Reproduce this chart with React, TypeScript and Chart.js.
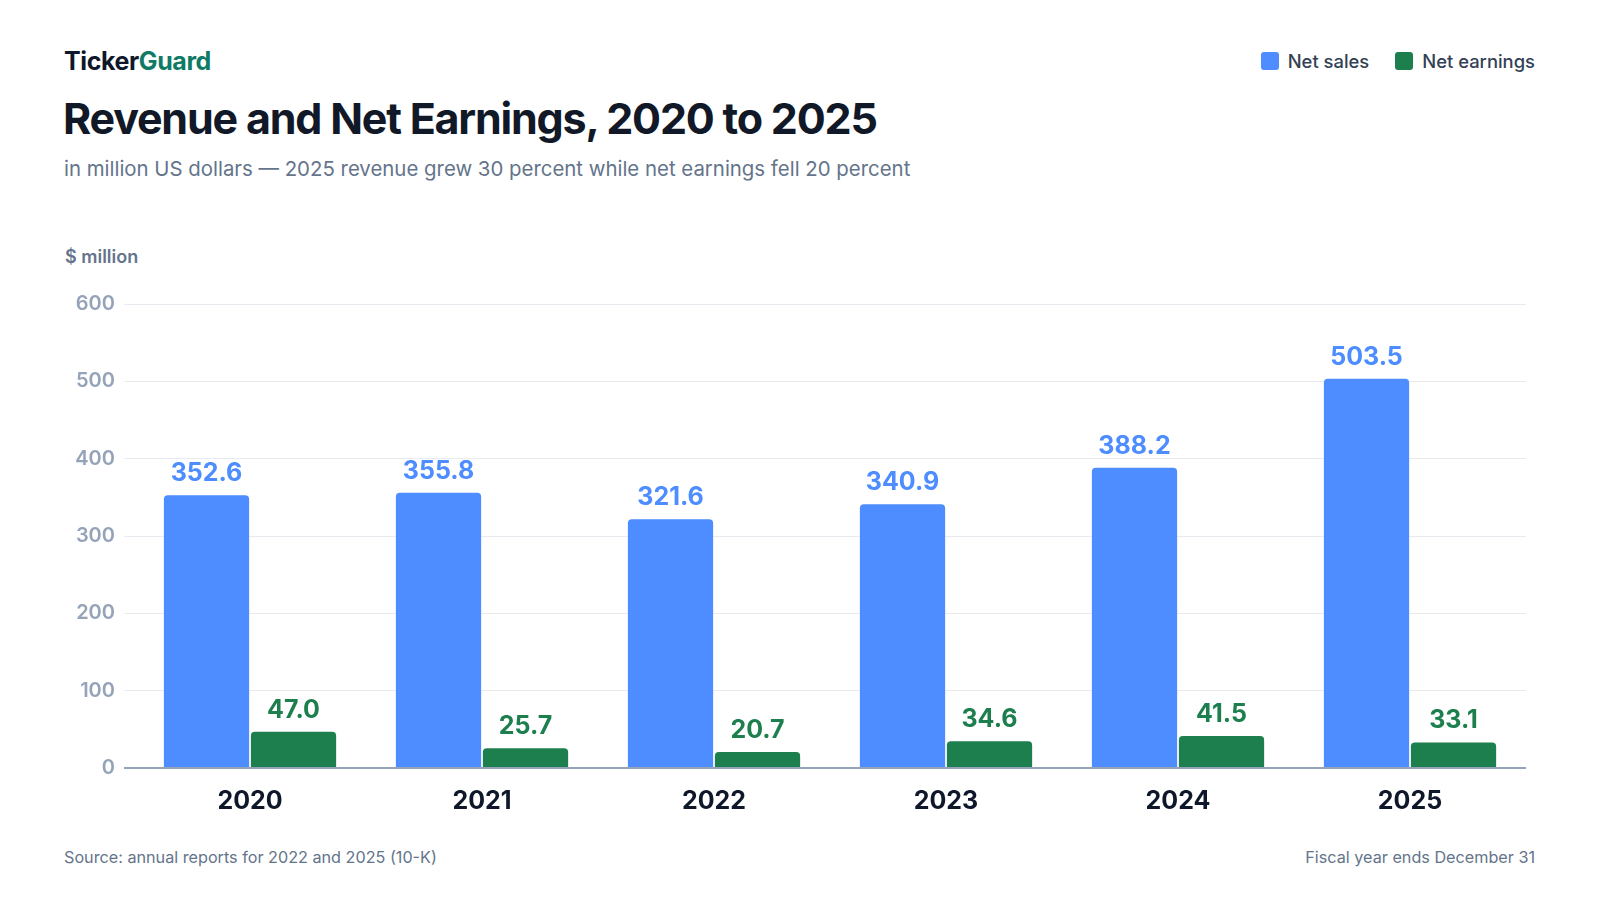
import Chart from "chart.js/auto";
import { useEffect, useRef } from "react";

const years = ["2020", "2021", "2022", "2023", "2024", "2025"];
const netSales = [352.6, 355.8, 321.6, 340.9, 388.2, 503.5];
const netEarnings = [47.0, 25.7, 20.7, 34.6, 41.5, 33.1];
const yMax = 600;
const yStep = 100;

const BLUE = "#4d8dff";
const GREEN = "#1d7f4d";
const FONT = "Inter, 'Noto Sans', sans-serif";

// value above each bar, positioned from the bar elements
const valueLabels = {
  id: "valueLabels",
  afterDatasetsDraw(chart: Chart) {
    const { ctx } = chart;
    ctx.save();
    ctx.font = `700 25px ${FONT}`;
    ctx.textAlign = "center";
    ctx.textBaseline = "alphabetic";
    chart.data.datasets.forEach((ds, i) => {
      const meta = chart.getDatasetMeta(i);
      ctx.fillStyle = ds.backgroundColor as string;
      meta.data.forEach((bar, j) => {
        const v = ds.data[j] as number;
        ctx.fillText(v.toFixed(1), bar.x, bar.y - 14);
      });
    });
    ctx.restore();
  },
};

function RevenueChart() {
  const canvasRef = useRef<HTMLCanvasElement | null>(null);

  useEffect(() => {
    if (!canvasRef.current) return;

    const chart = new Chart(canvasRef.current, {
      type: "bar",
      data: {
        labels: years,
        datasets: [
          {
            label: "Net sales",
            data: netSales,
            backgroundColor: BLUE,
            borderRadius: 4,
            categoryPercentage: 0.75,
            barPercentage: 0.98,
          },
          {
            label: "Net earnings",
            data: netEarnings,
            backgroundColor: GREEN,
            borderRadius: 4,
            categoryPercentage: 0.75,
            barPercentage: 0.98,
          },
        ],
      },
      options: {
        responsive: false,
        animation: false,
        layout: { padding: { top: 14, right: 9, bottom: 0, left: 0 } },
        plugins: {
          legend: { display: false },
          tooltip: { enabled: false },
        },
        scales: {
          x: {
            grid: { display: false, drawTicks: false },
            border: { display: false },
            ticks: {
              color: "#0f172a",
              font: { family: FONT, size: 25, weight: 700 },
              padding: 18,
            },
            afterFit: (scale) => {
              scale.height = 54;
            },
          },
          y: {
            min: 0,
            max: yMax,
            grid: {
              color: (c) => (c.tick && c.tick.value === 0 ? "#94a3b8" : "#e7eaef"),
              lineWidth: (c) => (c.tick && c.tick.value === 0 ? 2 : 1),
              drawTicks: true,
              tickLength: 10,
            },
            border: { display: false },
            ticks: {
              stepSize: yStep,
              color: "#94a3b8",
              font: { family: FONT, size: 20, weight: 600 },
              padding: 9,
            },
            afterFit: (scale) => {
              scale.width = 69;
            },
          },
        },
      },
      plugins: [valueLabels],
    });

    return () => chart.destroy();
  }, []);

  return (
    <canvas
      ref={canvasRef}
      width={1470}
      height={539}
      style={{ position: "absolute", left: 65, top: 283, width: 1470, height: 539 }}
    />
  );
}

function LegendItem({ color, label, gap }: { color: string; label: string; gap: number }) {
  return (
    <div style={{ display: "flex", alignItems: "center", marginLeft: gap }}>
      <span
        style={{
          width: 18,
          height: 18,
          borderRadius: 3,
          background: color,
          display: "inline-block",
          marginRight: 9,
        }}
      />
      <span style={{ fontSize: 18.4, fontWeight: 500, color: "#334155", lineHeight: 1 }}>{label}</span>
    </div>
  );
}

export default function App() {
  useEffect(() => {
    document.body.style.margin = "0";
  }, []);

  return (
    <div
      style={{
        position: "relative",
        width: 1600,
        height: 900,
        background: "#ffffff",
        fontFamily: FONT,
        overflow: "hidden",
      }}
    >
      <div
        style={{
          position: "absolute",
          left: 64,
          top: 49,
          fontSize: 25,
          fontWeight: 700,
          lineHeight: 1,
          letterSpacing: -0.4,
          color: "#0f172a",
        }}
      >
        Ticker<span style={{ color: "#0f7b66" }}>Guard</span>
      </div>
      <div
        style={{
          position: "absolute",
          right: 65,
          top: 52,
          display: "flex",
          alignItems: "center",
        }}
      >
        <LegendItem color={BLUE} label="Net sales" gap={0} />
        <LegendItem color={GREEN} label="Net earnings" gap={26} />
      </div>
      <div
        style={{
          position: "absolute",
          left: 63,
          top: 97,
          fontSize: 43,
          fontWeight: 700,
          lineHeight: 1,
          letterSpacing: -1.2,
          color: "#111827",
        }}
      >
        Revenue and Net Earnings, 2020 to 2025
      </div>
      <div
        style={{
          position: "absolute",
          left: 64,
          top: 159,
          fontSize: 20.4,
          fontWeight: 400,
          lineHeight: 1,
          color: "#64748b",
        }}
      >
        in million US dollars — 2025 revenue grew 30 percent while net earnings fell 20 percent
      </div>
      <div
        style={{
          position: "absolute",
          left: 65,
          top: 248,
          fontSize: 18,
          fontWeight: 600,
          lineHeight: 1,
          color: "#64748b",
        }}
      >
        $ million
      </div>
      <RevenueChart />
      <div
        style={{
          position: "absolute",
          left: 64,
          top: 849,
          fontSize: 16.2,
          lineHeight: 1,
          color: "#64748b",
        }}
      >
        Source: annual reports for 2022 and 2025 (10-K)
      </div>
      <div
        style={{
          position: "absolute",
          right: 65,
          top: 849,
          fontSize: 16.2,
          lineHeight: 1,
          color: "#64748b",
        }}
      >
        Fiscal year ends December 31
      </div>
    </div>
  );
}
